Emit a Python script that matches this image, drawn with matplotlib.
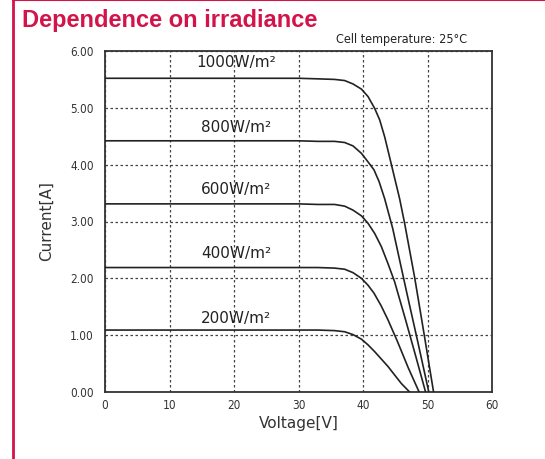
import matplotlib
matplotlib.use('Agg')
import matplotlib.pyplot as plt
from matplotlib.lines import Line2D

# I-V curves (voltage V, current A)
labels = ['1000W/m²', '800W/m²', '600W/m²', '400W/m²', '200W/m²']
label_y = [5.80, 4.66, 3.56, 2.44, 1.30]

v_1000 = [0, 30, 33, 35.6, 37.16, 38.45, 39.75, 40.77, 41.81, 42.58, 43.36, 43.98, 44.49,
          45.0, 45.68, 46.45, 48.0, 49.5, 50.94]
i_1000 = [5.52, 5.52, 5.51, 5.50, 5.48, 5.42, 5.33, 5.20, 4.99, 4.79, 4.49, 4.20, 3.96,
          3.72, 3.40, 2.97, 2.02, 1.00, 0]

v_800 = [0, 30, 33, 35.6, 37.16, 38.45, 39.75, 40.77, 41.7, 42.5, 43.36, 44.6, 45.68,
         46.8, 48.5, 50.2]
i_800 = [4.42, 4.42, 4.41, 4.41, 4.39, 4.33, 4.20, 4.05, 3.91, 3.70, 3.40, 2.88, 2.32,
         1.74, 0.88, 0]

v_600 = [0, 30, 33, 35.6, 37.16, 38.45, 39.75, 40.77, 41.81, 42.84, 43.87, 44.9, 46.6,
         48.2, 49.7]
i_600 = [3.31, 3.31, 3.30, 3.30, 3.27, 3.20, 3.10, 2.97, 2.79, 2.56, 2.26, 1.94, 1.27,
         0.62, 0]

v_400 = [0, 30, 33, 35.6, 37.16, 38.45, 39.75, 40.77, 41.7, 42.8, 43.87, 45.3, 47.0, 48.7]
i_400 = [2.19, 2.19, 2.19, 2.18, 2.16, 2.10, 2.00, 1.88, 1.74, 1.52, 1.27, 0.90, 0.43, 0]

v_200 = [0, 30, 33, 35.6, 37.16, 38.45, 39.75, 40.77, 41.81, 42.84, 43.87, 44.9, 45.94,
         47.23]
i_200 = [1.09, 1.09, 1.09, 1.08, 1.06, 1.01, 0.93, 0.83, 0.71, 0.58, 0.45, 0.30, 0.15, 0]

x_ticks = [0, 10, 20, 30, 40, 50, 60]
y_ticks = [0, 1, 2, 3, 4, 5, 6]

red = '#d2144a'
grey = '#333333'

fig = plt.figure(figsize=(5.45, 4.59), dpi=100)
ax = fig.add_axes([105 / 545, 1 - 392 / 459, 387 / 545, 341 / 459])

curves = [(v_1000, i_1000), (v_800, i_800), (v_600, i_600), (v_400, i_400), (v_200, i_200)]
for (v, i), lab, ly in zip(curves, labels, label_y):
    ax.plot(v, i, color='#222222', lw=1.2, zorder=3, solid_joinstyle='round')
    ax.text(20.3, ly, lab, ha='center', va='center', fontsize=11,
            family='DejaVu Sans', color='#222222')

ax.set_xlim(0, 60)
ax.set_ylim(0, 6)
ax.set_xticks(x_ticks)
ax.set_yticks(y_ticks)
ax.set_xticklabels([str(t) for t in x_ticks])
ax.set_yticklabels(['%.2f' % t for t in y_ticks])
ax.grid(True, color='#444444', linestyle=(0, (2, 2)), lw=0.9)
ax.tick_params(axis='x', length=0, pad=5, labelsize=8.5, colors=grey)
ax.tick_params(axis='y', length=0, pad=8, labelsize=8.5, colors=grey)
for lab in ax.get_xticklabels() + ax.get_yticklabels():
    lab.set_family(['Liberation Sans Narrow', 'DejaVu Sans'])
    lab.set_fontstretch('condensed')
for s in ax.spines.values():
    s.set_color(grey)
    s.set_linewidth(1.3)

ax.set_xlabel('Voltage[V]', fontsize=11, color=grey, labelpad=3)
ax.set_ylabel('Current[A]', fontsize=11, color=grey, labelpad=12)

fig.text(22 / 545, 1 - 20 / 459, 'Dependence on irradiance', fontsize=17,
         fontweight='bold', color=red, va='center', family='Liberation Sans')
fig.text(467 / 545, 1 - 40 / 459, 'Cell temperature: 25°C', fontsize=9,
         color='#222222', ha='right', va='center', fontstretch='condensed')

# red frame lines
fig.add_artist(Line2D([13 / 545, 13 / 545], [0, 1], color=red, lw=2, transform=fig.transFigure))
fig.add_artist(Line2D([13 / 545, 1], [0.999, 0.999], color=red, lw=1.5, transform=fig.transFigure))

fig.savefig('out.png', dpi=100)
